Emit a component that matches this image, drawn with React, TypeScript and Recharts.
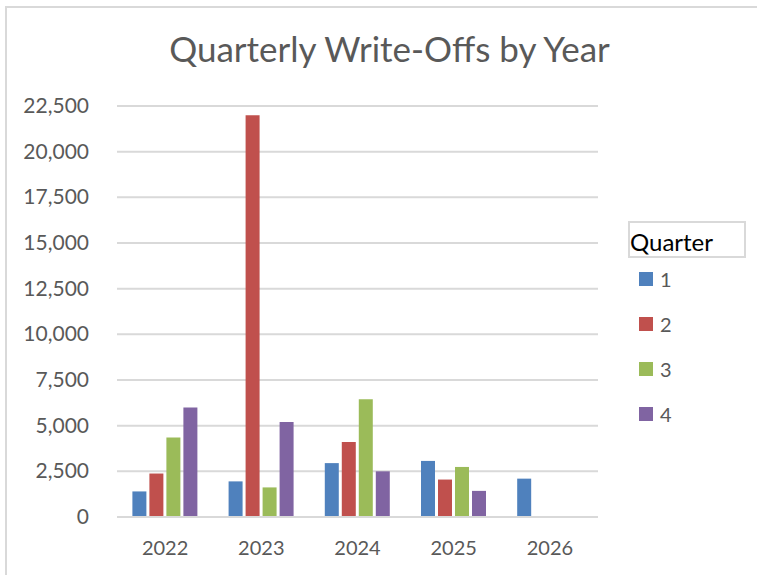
import React from 'react';
import { BarChart, Bar, XAxis, YAxis, CartesianGrid, Legend } from 'recharts';

const years = ['2022', '2023', '2024', '2025', '2026'];
const q1 = [1400, 1950, 2950, 3070, 2100];
const q2: (number | null)[] = [2380, 22000, 4100, 2050, null];
const q3: (number | null)[] = [4350, 1620, 6450, 2740, null];
const q4: (number | null)[] = [6000, 5200, 2500, 1430, null];
const yTicks = [0, 2500, 5000, 7500, 10000, 12500, 15000, 17500, 20000, 22500];
const seriesNames = ['1', '2', '3', '4'];
const colors = ['#4f81bd', '#c0504d', '#9bbb59', '#8064a2'];

const data = years.map((y, i) => ({ year: y, q1: q1[i], q2: q2[i], q3: q3[i], q4: q4[i] }));

const FONT = 'Lato, "Open Sans", sans-serif';

const LegendContent = () => (
  <div style={{ fontFamily: FONT, position: 'relative' }}>
    <div
      style={{
        border: '2px solid #d9d9d9',
        width: 118,
        height: 37,
        boxSizing: 'border-box',
        fontSize: 24,
        color: '#000',
        lineHeight: '37px',
        paddingLeft: 0,
      }}
    >
      Quarter
    </div>
    {seriesNames.map((n, i) => (
      <div key={n} style={{ position: 'absolute', left: 11, top: 46 + i * 45, display: 'flex', alignItems: 'center' }}>
        <div style={{ width: 14, height: 14, background: colors[i] }} />
        <span style={{ marginLeft: 7, fontSize: 20, color: '#595959' }}>{n}</span>
      </div>
    ))}
  </div>
);

const YTick = (props: any) => {
  const { x, y, payload } = props;
  return (
    <text x={89} y={y} dy={7} textAnchor="end" fill="#595959" fontSize={21} fontFamily={FONT}>
      {Number(payload.value).toLocaleString('en-US')}
    </text>
  );
};

export default function App() {
  return (
    <div style={{ position: 'absolute', left: 0, top: 0, width: 757, height: 575, background: '#fff', overflow: 'hidden' }}>
      <div
        style={{
          position: 'absolute',
          left: 5,
          top: 6,
          width: 760,
          height: 600,
          borderTop: '2px solid #d9d9d9',
          borderLeft: '2px solid #d9d9d9',
        }}
      />
      <div
        style={{
          position: 'absolute',
          left: 0,
          width: 779,
          top: 27,
          textAlign: 'center',
          fontFamily: FONT,
          fontSize: 35,
          lineHeight: 1.2,
          color: '#595959',
          whiteSpace: 'nowrap',
        }}
      >
        Quarterly Write-Offs by Year
      </div>
      <div style={{ position: 'absolute', left: 0, top: 0 }}>
        <BarChart
          width={757}
          height={575}
          data={data}
          margin={{ top: 106, right: 159, bottom: 0, left: 0 }}
          barCategoryGap="16%"
          barGap={3}
        >
          <CartesianGrid vertical={false} stroke="#d9d9d9" strokeWidth={2} />
          <XAxis
            dataKey="year"
            axisLine={{ stroke: '#d9d9d9', strokeWidth: 2 }}
            tickLine={false}
            tickSize={0}
            tickMargin={24}
            tick={{ fill: '#595959', fontSize: 20, fontFamily: FONT }}
            height={58}
          />
          <YAxis
            width={117}
            domain={[0, 22500]}
            ticks={yTicks}
            interval={0}
            axisLine={false}
            tickLine={false}
            tick={<YTick />}
          />
          <Legend
            layout="vertical"
            align="center"
            verticalAlign="middle"
            wrapperStyle={{ left: 628, top: 221, width: 130 }}
            content={() => <LegendContent />}
          />
          <Bar dataKey="q1" name="1" fill={colors[0]} isAnimationActive={false} />
          <Bar dataKey="q2" name="2" fill={colors[1]} isAnimationActive={false} />
          <Bar dataKey="q3" name="3" fill={colors[2]} isAnimationActive={false} />
          <Bar dataKey="q4" name="4" fill={colors[3]} isAnimationActive={false} />
        </BarChart>
      </div>
    </div>
  );
}
